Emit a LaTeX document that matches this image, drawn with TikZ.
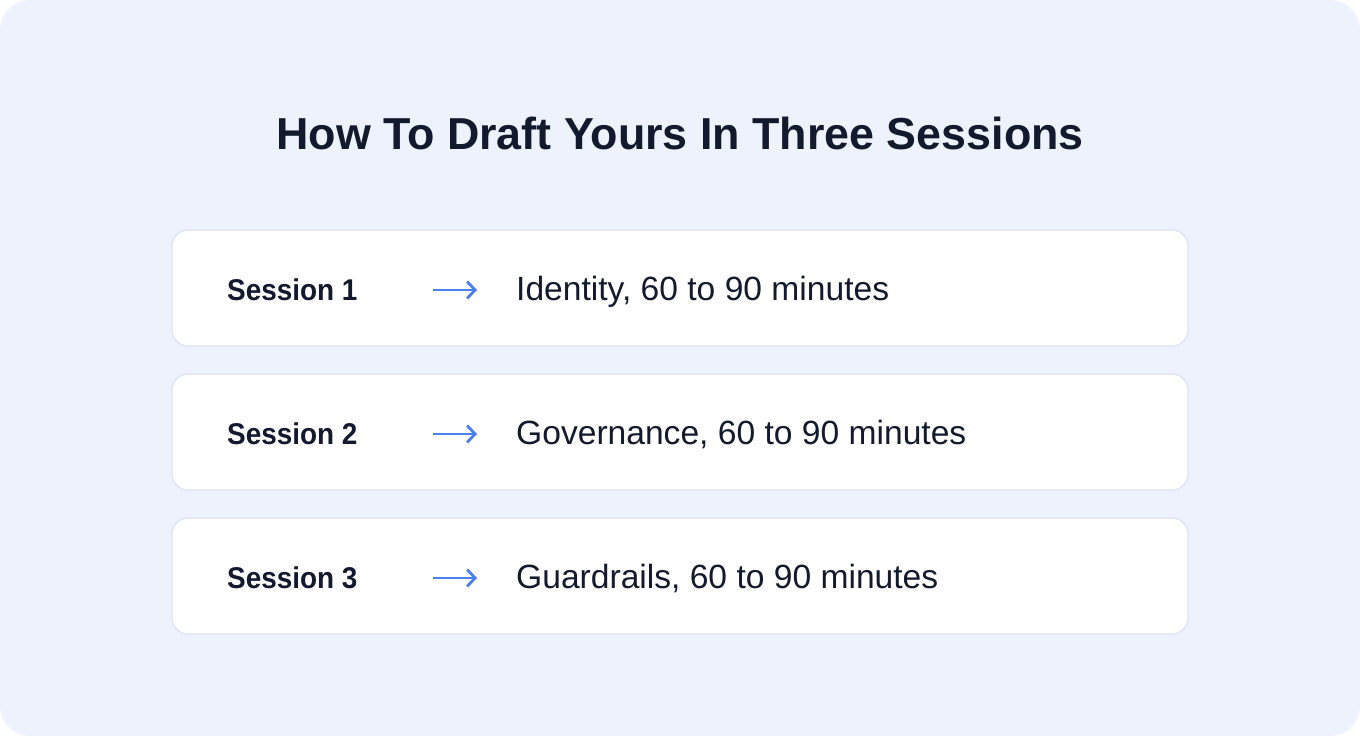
\documentclass[tikz,border=0pt]{standalone}
\usepackage{fontspec}
\setmainfont{Liberation Sans}[Ligatures=NoCommon]
\usetikzlibrary{arrows.meta}
\definecolor{bgc}{HTML}{EEF2FC}
\definecolor{cardline}{HTML}{DDE3F0}
\definecolor{ink}{HTML}{141A2D}
\definecolor{arrowc}{HTML}{4A80F0}
\begin{document}
\begin{tikzpicture}[x=1pt,y=-1pt,
  card/.style={draw=cardline,line width=1.2pt,fill=white,rounded corners=16pt,minimum width=1016pt,minimum height=116pt,inner sep=0pt},
  lbl/.style={font=\fontsize{30}{36}\selectfont\bfseries,text=ink,anchor=base west,inner sep=0pt,xscale=0.93},
  desc/.style={font=\fontsize{33.6}{36}\selectfont,text=ink,anchor=base west,inner sep=0pt},
  arr/.style={draw=arrowc,line width=2.8pt,-{Straight Barb[length=8pt,width=17pt,line width=2.8pt]}}]
\useasboundingbox (0,0) rectangle (1360,736);
\fill[white] (0,0) rectangle (1360,736);
\fill[bgc,rounded corners=30pt] (0,0) rectangle (1360,736);
\node[font=\fontsize{44.8}{52}\selectfont\bfseries,text=ink,anchor=base] (title) at (680,149) {How To Draft Yours In Three Sessions};
\foreach \i/\y/\t in {1/288/{Identity, 60 to 90 minutes},2/432/{Governance, 60 to 90 minutes},3/576/{Guardrails, 60 to 90 minutes}}{
  \node[card] (c\i) at (680,\y) {};
  \node[lbl] (s\i) at (227,\y+12) {Session \i};
  \coordinate (a\i) at (433,\y+2);
  \coordinate (b\i) at (477,\y+2);
  \draw[arr] (a\i) -- (b\i);
  \node[desc] (d\i) at (516,\y+12) {\t};
}
\end{tikzpicture}
\end{document}
